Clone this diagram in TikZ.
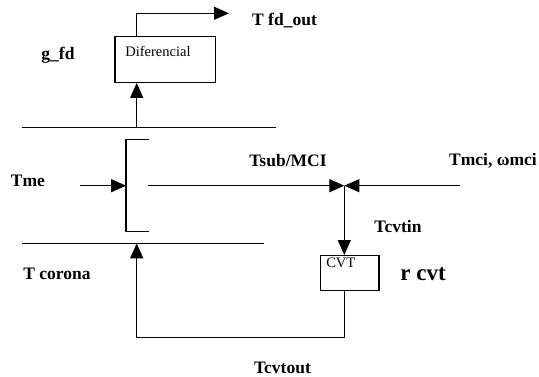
\documentclass[tikz,border=0pt]{standalone}
\usepackage{fontspec}
\setmainfont{Liberation Serif}
\usetikzlibrary{arrows.meta}
\begin{document}
\begin{tikzpicture}[x=1pt,y=-1pt,
  ln/.style={line width=1.2pt},
  arr/.style={ln,-{Triangle[length=15pt,width=13pt]}},
  box/.style={draw,line width=1.2pt,inner sep=0pt,anchor=north west},
  lbl/.style={font=\fontsize{17.5}{20}\selectfont\bfseries,inner sep=0pt},
  small/.style={font=\fontsize{14.5}{16}\selectfont,inner sep=0pt}]
\useasboundingbox (0,0) rectangle (539,376);
% boxes
\node[box,minimum width=100.7pt,minimum height=45.7pt] (dif) at (114.3,36) {};
\node[small,anchor=center] (diftxt) at (158,51) {Diferencial};
\node[box,minimum width=58.3pt,minimum height=34.5pt] (cvt) at (320,255) {};
\node[small,anchor=center] (cvttxt) at (340.8,262.5) {CVT};
% coordinates
\coordinate (fdout) at (229,13.3);
\coordinate (topL) at (21.7,127.7);
\coordinate (topR) at (276,127.7);
\coordinate (botL) at (21.7,243.3);
\coordinate (botR) at (264.3,243.3);
\coordinate (brT) at (149,139.3);
\coordinate (brB) at (149,231.7);
\coordinate (tmeS) at (80,185.7);
\coordinate (brM) at (126,185.7);
\coordinate (subS) at (148,185.7);
\coordinate (junc) at (344.3,185.7);
\coordinate (mciS) at (460,185.7);
\coordinate (difin) at (136.7,127.7);
\coordinate (corin) at (136.7,243.3);
\coordinate (loopR) at (344.3,337.5);
% lines
\draw[ln] (topL) -- (topR);
\draw[ln] (botL) -- (botR);
\draw[ln] (brT) -| (brM) |- (brB);
\draw[arr] (dif.north west -| difin) |- (fdout);
\draw[arr] (difin) -- (dif.south west -| difin);
\draw[arr] (tmeS) -- (brM);
\draw[arr] (subS) -- (junc);
\draw[arr] (mciS) -- (junc);
\draw[arr] (junc) -- (cvt.north west -| junc);
\draw[arr] (cvt.south west -| junc) -- (loopR) -| (corin);
% labels
\node[lbl,anchor=west] (tfd) at (252,20.5) {T fd\_out};
\node[lbl] (gfd) at (58,55) {g\_fd};
\node[lbl] (tme) at (28,180.5) {Tme};
\node[lbl] (tsub) at (288,160.5) {Tsub/MCI};
\node[lbl] (tmci) at (493,160.5) {Tmci, ωmci};
\node[lbl] (tcvtin) at (398,227) {Tcvtin};
\node[font=\fontsize{23}{26}\selectfont\bfseries,inner sep=0pt] (rcvt) at (423,274.5) {r cvt};
\node[lbl] (tcor) at (57,273.5) {T corona};
\node[lbl] (tcvtout) at (282.5,368) {Tcvtout};
\end{tikzpicture}
\end{document}
